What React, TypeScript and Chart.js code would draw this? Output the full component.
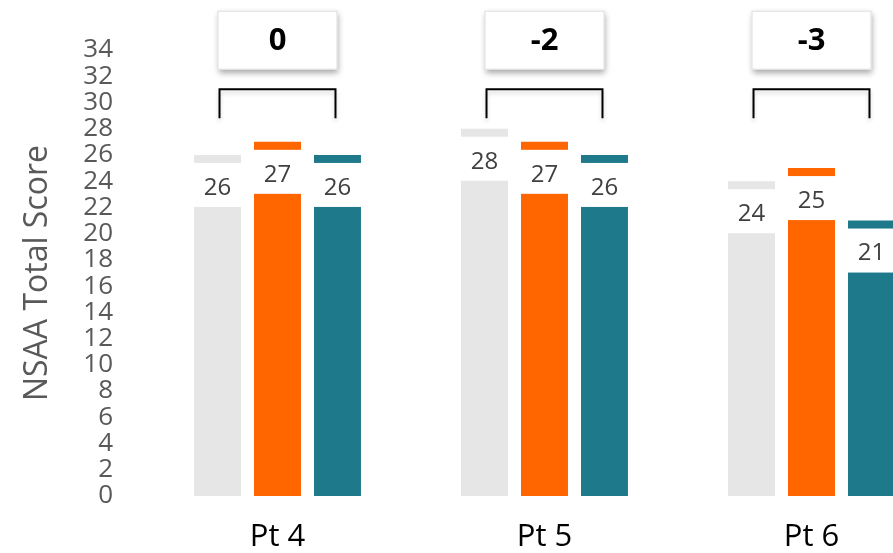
import { useEffect, useRef } from 'react';
import { Chart, registerables } from 'chart.js';

Chart.register(...registerables);

const FONT = "'Open Sans', 'Noto Sans', sans-serif";

const categories = ['Pt 4', 'Pt 5', 'Pt 6'];
const seriesGrey = [26, 28, 24];
const seriesOrange = [27, 27, 25];
const seriesTeal = [26, 26, 21];
const differences = ['0', '-2', '-3'];
const yTickMin = 0;
const yTickMax = 34;
const yTickStep = 2;

const COLORS = ['#E6E6E6', '#FF6600', '#1E7A8A'];

export default function App() {
  const ref = useRef<HTMLCanvasElement>(null);

  useEffect(() => {
    if (!ref.current) return;

    const annotate = {
      id: 'annotate',
      afterDatasetsDraw(chart: any) {
        const ctx = chart.ctx as CanvasRenderingContext2D;
        const yScale = chart.scales.y;
        ctx.save();
        // white label boxes with values
        chart.data.datasets.forEach((ds: any, di: number) => {
          const meta = chart.getDatasetMeta(di);
          meta.data.forEach((bar: any, i: number) => {
            const { x, y, width } = bar.getProps(['x', 'y', 'width'], true);
            ctx.fillStyle = '#ffffff';
            ctx.fillRect(x - width / 2 - 1, y + 8, width + 2, 44);
            ctx.fillStyle = '#404040';
            ctx.font = `24px ${FONT}`;
            ctx.textAlign = 'center';
            ctx.textBaseline = 'middle';
            ctx.fillText(String(ds.data[i]), x, y + 33);
          });
        });
        // difference boxes and brackets
        const m0 = chart.getDatasetMeta(0);
        const m2 = chart.getDatasetMeta(2);
        const boxTop = yScale.getPixelForValue(37);
        const boxBottom = yScale.getPixelForValue(32.5);
        const brTop = yScale.getPixelForValue(31);
        const brBottom = yScale.getPixelForValue(28.8);
        differences.forEach((d, i) => {
          const gx = m0.data[i].x;
          const tx = m2.data[i].x;
          ctx.save();
          ctx.shadowColor = 'rgba(0,0,0,0.35)';
          ctx.shadowBlur = 6;
          ctx.shadowOffsetX = 1;
          ctx.shadowOffsetY = 3;
          ctx.fillStyle = '#ffffff';
          ctx.fillRect(gx, boxTop, tx - gx, boxBottom - boxTop);
          ctx.restore();
          ctx.strokeStyle = '#dcdcdc';
          ctx.lineWidth = 1;
          ctx.strokeRect(gx + 0.5, boxTop + 0.5, tx - gx - 1, boxBottom - boxTop - 1);
          ctx.fillStyle = '#000000';
          ctx.font = `bold 31px ${FONT}`;
          ctx.textAlign = 'center';
          ctx.textBaseline = 'middle';
          ctx.fillText(d, (gx + tx) / 2, (boxTop + boxBottom) / 2 + 1);

          ctx.save();
          ctx.shadowColor = 'rgba(0,0,0,0.18)';
          ctx.shadowBlur = 4;
          ctx.shadowOffsetY = 3;
          ctx.strokeStyle = '#000000';
          ctx.lineWidth = 2;
          ctx.beginPath();
          ctx.moveTo(gx + 2, brBottom);
          ctx.lineTo(gx + 2, brTop);
          ctx.lineTo(tx - 2, brTop);
          ctx.lineTo(tx - 2, brBottom);
          ctx.stroke();
          ctx.restore();
        });
        ctx.restore();
      },
    };

    const chart = new Chart(ref.current, {
      type: 'bar',
      data: {
        labels: categories,
        datasets: [
          { label: 'Series 1', data: seriesGrey, backgroundColor: COLORS[0] },
          { label: 'Series 2', data: seriesOrange, backgroundColor: COLORS[1] },
          { label: 'Series 3', data: seriesTeal, backgroundColor: COLORS[2] },
        ],
      },
      options: {
        responsive: false,
        animation: false,
        events: [],
        layout: { padding: { top: 50, left: 0, right: 0, bottom: 0 } },
        datasets: {
          bar: { categoryPercentage: 0.674, barPercentage: 0.783 },
        },
        plugins: {
          legend: { display: false },
          tooltip: { enabled: false },
        },
        scales: {
          x: {
            grid: { display: false, drawTicks: false },
            border: { display: false },
            ticks: {
              color: '#000000',
              font: { family: FONT, size: 31 },
              padding: 23,
            },
            afterFit: (s: any) => {
              s.height = 57;
            },
          },
          y: {
            min: yTickMin,
            max: yTickMax,
            grid: { display: false, drawTicks: false },
            border: { display: false },
            ticks: {
              stepSize: yTickStep,
              autoSkip: false,
              color: '#595959',
              font: { family: FONT, size: 26 },
              padding: 31,
            },
            title: {
              display: true,
              text: 'NSAA Total Score',
              color: '#595959',
              font: { family: FONT, size: 32 },
              padding: { top: 19, bottom: 0 },
            },
            afterFit: (s: any) => {
              s.width = 144;
            },
          },
        },
      },
      plugins: [annotate],
    });

    return () => chart.destroy();
  }, []);

  return (
    <div
      style={{
        position: 'fixed',
        left: 0,
        top: 0,
        width: 893,
        height: 553,
        overflow: 'hidden',
        background: '#ffffff',
      }}
    >
      <canvas ref={ref} width={945} height={553} style={{ display: 'block' }} />
    </div>
  );
}
